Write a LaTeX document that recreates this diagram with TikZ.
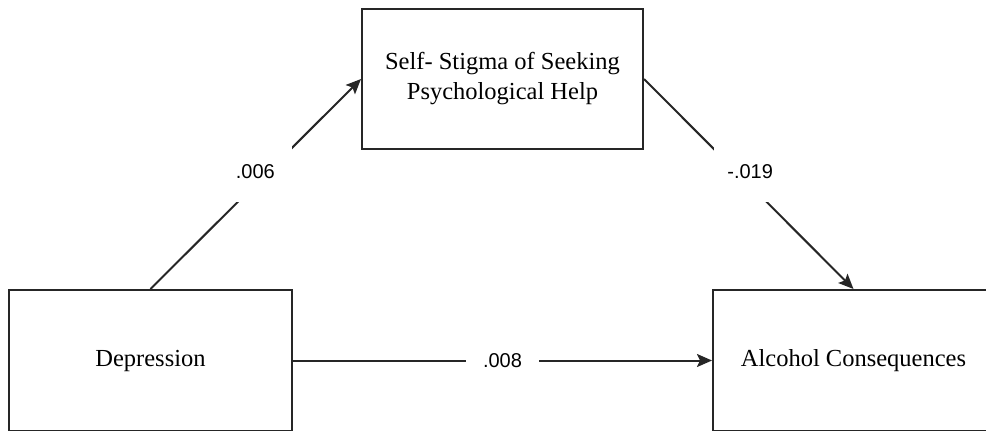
\documentclass[tikz,border=0pt]{standalone}
\usepackage{fontspec}
\setmainfont{Liberation Serif}
\newfontfamily\labelfont{Liberation Sans}
\usetikzlibrary{arrows.meta}
\definecolor{linegray}{HTML}{262626}
\tikzset{
  varbox/.style={draw=linegray, line width=2pt, fill=white, inner sep=0pt,
    align=center, font=\fontsize{24.5}{30}\selectfont},
  pathline/.style={draw=linegray, line width=2pt,
    -{Stealth[length=15pt, width=13pt, inset=3pt]}},
  coef/.style={fill=white, inner sep=0pt, minimum width=73pt, minimum height=62pt,
    font=\labelfont\fontsize{20}{24}\selectfont}
}
\begin{document}
\begin{tikzpicture}[x=1pt, y=-1pt]
  \useasboundingbox (0,0) rectangle (986,431);
  \clip (0,0) rectangle (986,430.2);

  % the three variables
  \node[varbox, minimum width=281pt, minimum height=140pt] (stigma) at (502.5,79)
    {Self- Stigma of Seeking\\Psychological Help};
  \node[varbox, minimum width=283pt, minimum height=141pt] (dep) at (150.5,360.5)
    {Depression};
  \node[varbox, minimum width=281pt, minimum height=141pt] (alc) at (853.5,360.5)
    {Alcohol Consequences};

  % paths with their coefficients
  \draw[pathline] (dep.north) -- node[coef, pos=0.56, xshift=-13pt] {.006} (stigma.west);
  \draw[pathline] (stigma.east) -- node[coef, pos=0.44, xshift=14pt] {-.019} (alc.north);
  \draw[pathline] (dep.east) -- node[coef, pos=0.5, minimum height=20pt] {.008} (alc.west);
\end{tikzpicture}
\end{document}
